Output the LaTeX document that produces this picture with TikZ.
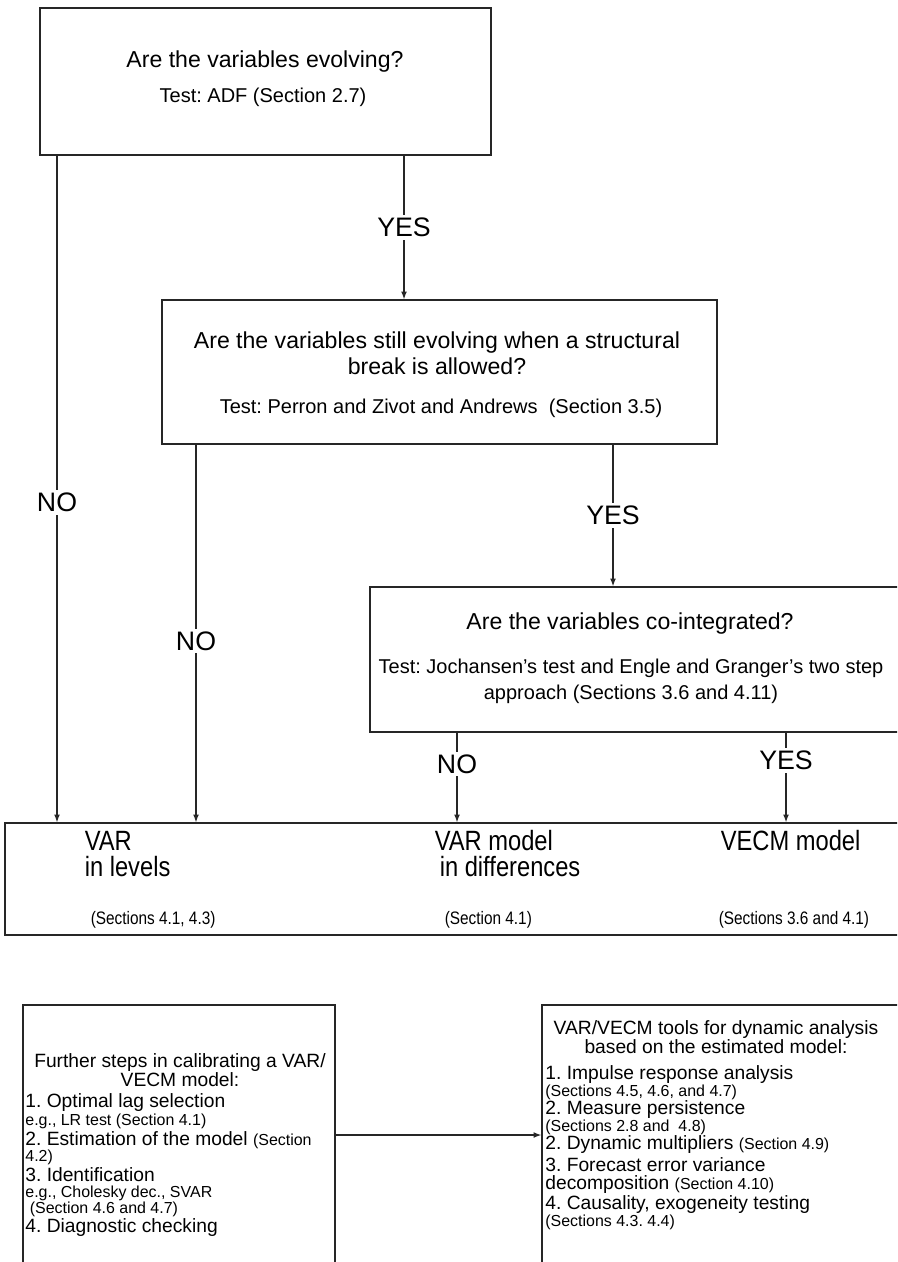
\documentclass[tikz,border=0pt]{standalone}
\usepackage{fontspec}
\setmainfont{Liberation Sans}
\newfontfamily\narrowsf[FakeStretch=0.85]{Liberation Sans}
\usetikzlibrary{arrows.meta,fit}
\frenchspacing
\newcommand*\qfont{\fontsize{12}{13.5}\selectfont}
\newcommand*\tfont{\fontsize{10.4}{13.5}\selectfont}
\newcommand*\yfont{\fontsize{13.9}{16}\selectfont}
\newcommand*\mfont{\narrowsf\fontsize{14.5}{16}\selectfont}
\newcommand*\msml{\narrowsf\fontsize{9.4}{11}\selectfont}
\newcommand*\ifont{\fontsize{10}{9.6}\selectfont}
\newcommand*\sml{\fontsize{8.3}{8.3}\selectfont}

\begin{document}
\begin{tikzpicture}[x=0.52pt,y=-0.52pt,
				box/.style={draw=black!85,line width=0.7pt,inner sep=0pt},
				qtext/.style={font=\qfont,align=center},
				ttext/.style={font=\tfont,align=center},
				ans/.style={font=\yfont,fill=white,inner sep=1.5pt},
				lvl/.style={font=\mfont,anchor=west,text height=2ex,text depth=0.5ex},
				lvlsml/.style={font=\msml,anchor=west},
				item/.style={font=\ifont,anchor=west,inner sep=0pt},
				flow/.style={draw=black!85,line width=0.6pt,-{Latex[length=4pt,width=3pt]}}]
				\useasboundingbox (0,0) rectangle (897,1262);
				\clip (0,0) rectangle (897,1262);

				% question boxes
				\node[box, fit={(40,8) (491,155)}] (evolve) {};
				\node[qtext] (evolveq) at (265,62) {Are the variables evolving?};
				\node[ttext] (evolvet) at (263,97) {Test: ADF (Section 2.7)};

				\node[box, fit={(162,300) (717,444)}] (brk) {};
				\node[qtext] (brkq) at (437,353) {Are the variables still evolving when a structural\\break is allowed?};
				\node[ttext] (brkt) at (441,408) {Test: Perron and Zivot and Andrews\ \ (Section 3.5)};

				\node[box, fit={(370,587) (910,732)}] (coint) {};
				\node[qtext] (cointq) at (630,624) {Are the variables co-integrated?};
				\node[ttext] (cointt) at (631,681) {Test: Jochansen’s test and Engle and Granger’s two step\\approach (Sections 3.6 and 4.11)};

				% models
				\node[box, fit={(5,823) (910,935)}] (models) {};
				\node[lvl] (var1) at (78,843) {VAR};
				\node[lvl] (var2) at (78,869) {in levels};
				\node[lvlsml] (var3) at (84,920) {(Sections 4.1, 4.3)};
				\node[lvl] (dif1) at (428,843) {VAR model};
				\node[lvl] (dif2) at (433,869) {in differences};
				\node[lvlsml] (dif3) at (438,920) {(Section 4.1)};
				\node[lvl] (vecm1) at (714,843) {VECM model};
				\node[lvlsml] (vecm3) at (712,920) {(Sections 3.6 and 4.1)};

				% columns of the connectors
				\coordinate (c1) at (57,0);
				\coordinate (c2) at (404,0);
				\coordinate (c3) at (196,0);
				\coordinate (c4) at (613,0);
				\coordinate (c5) at (457,0);
				\coordinate (c6) at (786,0);
				\coordinate (r1) at (0,1135);

				\draw[flow] (evolve.south -| c1) -- node[ans,pos=0.52] (no1) {NO} (models.north -| c1);
				\draw[flow] (evolve.south -| c2) -- node[ans] (yes1) {YES} (brk.north -| c2);
				\draw[flow] (brk.south -| c3) -- node[ans,pos=0.52] (no2) {NO} (models.north -| c3);
				\draw[flow] (brk.south -| c4) -- node[ans,pos=0.5] (yes2) {YES} (coint.north -| c4);
				\draw[flow] (coint.south -| c5) -- node[ans,pos=0.35] (no3) {NO} (models.north -| c5);
				\draw[flow] (coint.south -| c6) -- node[ans,pos=0.31] (yes3) {YES} (models.north -| c6);

				% further steps
				\node[box, fit={(23,1005) (335,1300)}] (steps) {};
				\node[qtext,font=\ifont] (stepsh) at (180,1070) {Further steps in calibrating a VAR/\\VECM model:};
				\foreach \ly/\lt [count=\i] in {1103/{1. Optimal lag selection},1121/{\sml e.g., LR test (Section 4.1)},
				1140/{2. Estimation of the model {\sml(Section}},1157/{\sml 4.2)},1175/{3. Identification},
				1193/{\sml e.g., Cholesky dec., SVAR},1209/{\sml\ (Section 4.6 and 4.7)},1228/{4. Diagnostic checking}}
				\node[item] (step\i) at (25,\ly) {\lt};

				\node[box, fit={(542,1005) (910,1300)}] (tools) {};
				\node[qtext,font=\ifont] (toolsh) at (716,1037) {VAR/VECM tools for dynamic analysis\\based on the estimated model:};
				\foreach \ly/\lt [count=\i] in {1075/{1. Impulse response analysis},1092/{\sml(Sections 4.5, 4.6, and 4.7)},
				1110/{2. Measure persistence},1127/{\sml(Sections 2.8 and\ \ 4.8)},1145/{2. Dynamic multipliers {\sml(Section 4.9)}},
				1165/{3. Forecast error variance},1185/{decomposition {\sml(Section 4.10)}},1205/{4. Causality, exogeneity testing},
				1222/{\sml(Sections 4.3. 4.4)}}
				\node[item] (tool\i) at (545,\ly) {\lt};

				\draw[flow] (steps.east |- r1) -- (tools.west |- r1);
				\end{tikzpicture}
\end{document}
